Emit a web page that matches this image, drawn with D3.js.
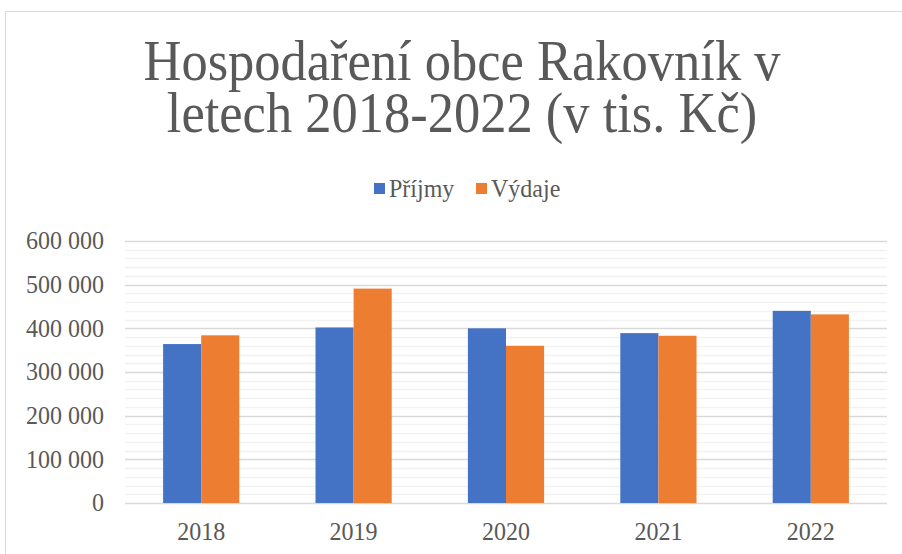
<!DOCTYPE html>
<html><head><meta charset="utf-8">
<script src="https://cdn.jsdelivr.net/npm/d3@7"></script>
<style>body{margin:0;background:#fff}svg{display:block}</style>
</head><body>
<svg id="c" width="902" height="554" font-family="Liberation Serif, Times New Roman, serif"></svg>
<script>
const years = ["2018","2019","2020","2021","2022"];
const series = ["Příjmy","Výdaje"];
const prijmy = [364000, 402000, 400000, 389000, 440000];
const vydaje = [384000, 491000, 360000, 383000, 432000];
const colors = ["#4472C4","#ED7D31"];
const yTicks = [0,100000,200000,300000,400000,500000,600000];
const titleLines = ["Hospodaření obce Rakovník v","letech 2018-2022 (v tis. Kč)"];

const FONT = "Liberation Serif, Times New Roman, serif";
const TXT = "#595959";
const SY = 1.07;

const svg = d3.select("#c");
svg.append("rect").attr("x",5.5).attr("y",11.5).attr("width",940).attr("height",600)
  .attr("fill","#fff").attr("stroke","#d9d9d9").attr("stroke-width",1);

const L=125,R=887,T=241,B=503;
const x0 = d3.scaleBand().domain(years).range([L,R]).padding(0);
const x1 = d3.scaleBand().domain(series).range([0,x0.bandwidth()]).paddingInner(0).paddingOuter(1);
const y = d3.scaleLinear().domain([0,600000]).range([B,T]);

const minor = d3.range(0,600001,20000).filter(v=>v%100000!==0);
svg.append("g").selectAll("line").data(minor).join("line")
  .attr("x1",L).attr("x2",R).attr("y1",d=>Math.round(y(d))+0.5).attr("y2",d=>Math.round(y(d))+0.5)
  .attr("stroke","#f2f2f2").attr("stroke-width",1.5);
svg.append("g").selectAll("line").data(yTicks).join("line")
  .attr("x1",L).attr("x2",R).attr("y1",d=>Math.round(y(d))+0.5).attr("y2",d=>Math.round(y(d))+0.5)
  .attr("stroke","#d9d9d9").attr("stroke-width",1.5);

const fmt = d3.formatLocale({decimal:",",thousands:"\u00a0",grouping:[3],currency:["",""]}).format(",d");
const yAxis = d3.axisLeft(y).tickValues(yTicks).tickFormat(fmt).tickSize(0).tickPadding(0);
const ga = svg.append("g").attr("transform","translate(104,0)").call(yAxis);
ga.attr("font-family",FONT);
ga.select(".domain").remove();
ga.selectAll("text").attr("font-size",24).attr("font-family",FONT).attr("fill",TXT)
  .attr("dy","0.3em").attr("transform",`scale(1,${SY})`);

const data = years.map((yr,i)=>({yr, vals:[prijmy[i],vydaje[i]]}));
const groups = svg.append("g").selectAll("g").data(data).join("g")
  .attr("transform",d=>`translate(${x0(d.yr)},0)`);
groups.selectAll("rect").data(d=>d.vals.map((v,j)=>({s:series[j],v,j}))).join("rect")
  .attr("x",d=>x1(d.s)).attr("width",x1.bandwidth())
  .attr("y",d=>y(d.v)).attr("height",d=>B-y(d.v))
  .attr("fill",d=>colors[d.j]);

const xAxis = d3.axisBottom(x0).tickSize(0).tickPadding(0);
const gx = svg.append("g").attr("transform",`translate(0,${B})`).call(xAxis);
gx.attr("font-family",FONT);
gx.select(".domain").remove();
gx.selectAll("text").attr("font-size",24).attr("font-family",FONT).attr("fill",TXT)
  .attr("y",0).attr("dy","1.45em").attr("transform",`scale(1,${SY})`);

const title = svg.append("text")
  .attr("transform",`translate(462,80) scale(1,${SY})`)
  .attr("text-anchor","middle").attr("font-family",FONT).attr("fill",TXT)
  .attr("font-size",52.5);
title.selectAll("tspan").data(titleLines).join("tspan")
  .attr("x",0).attr("dy",(d,i)=>i===0?0:52/SY).text(d=>d);

const leg = svg.append("g");
const lx=[374,476];
series.forEach((s,i)=>{
  leg.append("rect").attr("x",lx[i]).attr("y",183).attr("width",11).attr("height",11).attr("fill",colors[i]);
  leg.append("text").attr("transform",`translate(${lx[i]+15},197) scale(1,${SY})`)
    .attr("font-family",FONT).attr("fill",TXT).attr("font-size",24).text(s);
});
</script>
</body></html>
